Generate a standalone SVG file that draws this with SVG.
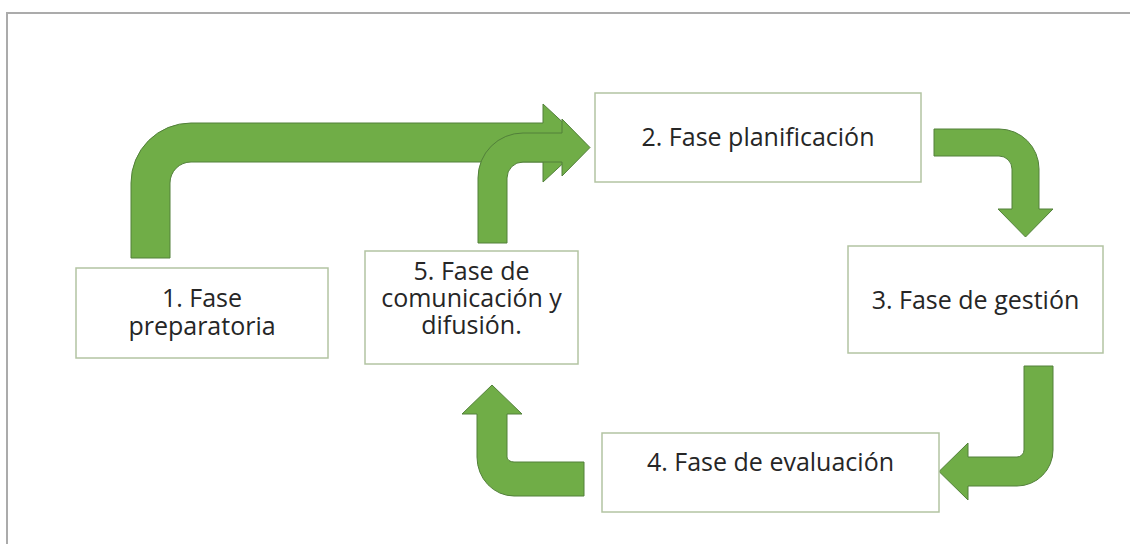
<svg xmlns="http://www.w3.org/2000/svg" width="1130" height="544" viewBox="0 0 1130 544">
<style>
.frame{fill:#ffffff;stroke:#ababab;stroke-width:2}
.box{fill:#ffffff;stroke:#b3c4a2;stroke-width:1.5}
.arr{fill:#70ad47;stroke:#52803a;stroke-width:1}
.lbl{font-family:"Open Sans","Noto Sans","Liberation Sans",sans-serif;font-size:25px;fill:#262626;text-anchor:middle}
</style>
<rect x="0" y="0" width="1130" height="544" fill="#ffffff"/>
<rect class="frame" x="7" y="13" width="1140" height="560"/>
<g id="connectors">
<path id="c1" class="arr" d="M131,258 L131,183 A60,60 0 0 1 191,123 L543,123 L543,104 L585,143 L543,182 L543,162 L191,162 A21,21 0 0 0 170,183 L170,258 Z"/>
<path id="c5" class="arr" d="M478,243 L478,178 A45,45 0 0 1 523,133 L562,133 L562,119 L590,147.5 L562,176 L562,162 L523,162 A16,16 0 0 0 507,178 L507,243 Z"/>
<path id="c2" class="arr" d="M934,129 L999,129 A40,40 0 0 1 1039,169 L1039,209 L1053,209 L1025.5,237 L998,209 L1012,209 L1012,169 A13,13 0 0 0 999,156 L934,156 Z"/>
<path id="c3" class="arr" d="M1024,366 L1053,366 L1053,450 A36,36 0 0 1 1017,486 L968,486 L968,500 L939,471.5 L968,443 L968,457 L1017,457 A7,7 0 0 0 1024,450 Z"/>
<path id="c4" class="arr" d="M584,462 L584,496 L514,496 A37,39 0 0 1 477,457 L477,414 L462,414 L492,385 L522,414 L507,414 L507,457 A7,5 0 0 0 514,462 Z"/>
</g>
<g id="n1">
<rect class="box" x="76" y="268" width="252" height="90"/>
<text class="lbl" x="202" y="307"><tspan x="202">1. Fase</tspan><tspan x="202" dy="28">preparatoria</tspan></text>
</g>
<g id="n2">
<rect class="box" x="595" y="93" width="326" height="89"/>
<text class="lbl" x="758" y="146">2. Fase planificación</text>
</g>
<g id="n3">
<rect class="box" x="848" y="246" width="255" height="107"/>
<text class="lbl" x="975.5" y="309">3. Fase de gestión</text>
</g>
<g id="n4">
<rect class="box" x="602" y="433" width="337" height="79"/>
<text class="lbl" x="770.5" y="471">4. Fase de evaluación</text>
</g>
<g id="n5">
<rect class="box" x="365" y="251" width="213" height="113"/>
<text class="lbl" x="471.5" y="280"><tspan x="471.5">5. Fase de</tspan><tspan x="471.5" dy="27">comunicación y</tspan><tspan x="471.5" dy="27">difusión.</tspan></text>
</g>
</svg>
